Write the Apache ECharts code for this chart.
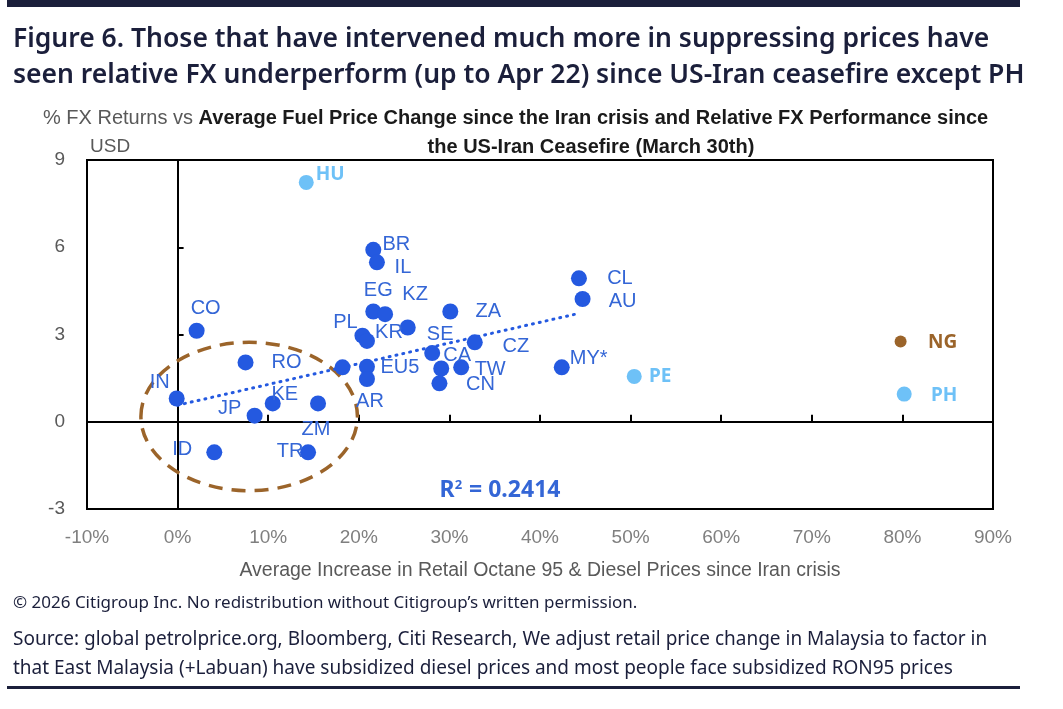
<!DOCTYPE html>
<html>
<head>
<meta charset="utf-8">
<script src="https://cdn.jsdelivr.net/npm/echarts@6/dist/echarts.min.js"></script>
<style>
  html, body { margin: 0; padding: 0; background: #fff; }
  #charts { width: 1063px; height: 709px; }
</style>
</head>
<body>
<div id="charts"></div>
<script>
  // main countries (dark blue)
  const mainNames = ['BR', 'IL', 'CL', 'AU', 'EG', 'KZ', '', 'PL', 'KR', 'ZA', 'SE', 'CA', 'TW', 'CN', 'CZ',
    'EU5', 'AR', '', 'MY*', 'CO', 'IN', 'RO', 'JP', 'KE', 'ZM', 'TR', 'ID'];
  const mainX = [21.6, 22.0, 44.3, 44.7, 21.6, 22.9, 25.4, 20.4, 20.9, 30.1, 28.1, 29.1, 31.3, 28.9, 32.8,
    20.9, 20.9, 18.2, 42.4, 2.1, -0.1, 7.5, 8.5, 10.5, 15.5, 14.4, 4.05];
  const mainY = [5.91, 5.48, 4.93, 4.22, 3.79, 3.70, 3.24, 2.96, 2.78, 3.79, 2.36, 1.83, 1.87, 1.32, 2.73,
    1.89, 1.47, 1.87, 1.87, 3.13, 0.80, 2.04, 0.21, 0.63, 0.63, -1.05, -1.05];

  // light blue outliers
  const lightNames = ['HU', 'PE', 'PH'];
  const lightX = [14.2, 50.4, 80.2];
  const lightY = [8.23, 1.56, 0.95];

  // brown
  const brownNames = ['NG'];
  const brownX = [79.8];
  const brownY = [2.76];

  // dotted trend line ends
  const trendX = [0, 44.2];
  const trendY = [0.57, 3.72];
  const rSquared = '0.2414';

  // dashed ellipse: centre x, centre y, radius x, radius y (data units)
  const ellipse = [7.9, 0.18, 11.95, 2.55];

  // label offsets (px from point centre)
  const labelOffset = {
    BR: [23, -5], IL: [26, 5], CL: [41, 0], AU: [40, 2], EG: [5, -21], KZ: [30, -20], PL: [-17, -13],
    KR: [22, -8], ZA: [38, 0], SE: [8, -19], CA: [16, -13], TW: [29, 2], CN: [41, 1], CZ: [41, 4],
    EU5: [33, 1], AR: [3, 22], 'MY*': [27, -9], CO: [9, -22], IN: [-17, -16], RO: [41, 0], JP: [-25, -7],
    KE: [12, -9], ZM: [-2, 26], TR: [-18, -1], ID: [-32, -3], HU: [24, -8], PE: [26, 0], NG: [42, 1], PH: [40, 1]
  };

  const DARK = '#2459E0';
  const DARK_TXT = '#3466D6';
  const LIGHT = '#6EC1F7';
  const BROWN = '#9B642A';
  const NAVY = '#1B1F3B';
  const GREY = '#7F7F7F';

  function points(names, xs, ys) {
    return names.map(function (n, i) {
      return {
        name: n,
        value: [xs[i], ys[i]],
        label: {
          show: n !== '',
          offset: labelOffset[n] || [0, 0]
        }
      };
    });
  }

  let chart = echarts.init(document.getElementById('charts'));
  chart.setOption({
    animation: false,
    grid: {
      left: 87, right: 70, top: 160, bottom: 200,
      show: true, borderColor: '#000', borderWidth: 2, backgroundColor: 'transparent'
    },
    xAxis: [
      {
        type: 'value', min: -10, max: 90, interval: 10, position: 'bottom',
        name: 'Average Increase in Retail Octane 95 & Diesel Prices since Iran crisis',
        nameLocation: 'middle', nameGap: 52,
        nameTextStyle: { color: '#595959', fontSize: 19.5, fontFamily: 'Liberation Sans' },
        axisLine: { show: false, onZero: false },
        axisTick: { show: false },
        splitLine: { show: false },
        axisLabel: { color: GREY, fontSize: 19, fontFamily: 'Liberation Sans', margin: 19, formatter: '{value}%' }
      },
      {
        type: 'value', min: -10, max: 90, interval: 10, position: 'bottom',
        axisLine: { show: true, onZero: true, onZeroAxisIndex: 0, lineStyle: { color: '#000', width: 2 } },
        axisTick: { show: true, inside: true, length: 7, lineStyle: { color: '#000', width: 2 } },
        axisLabel: { show: false },
        splitLine: { show: false }
      }
    ],
    yAxis: [
      {
        type: 'value', min: -3, max: 9, interval: 3, position: 'left',
        axisLine: { show: false, onZero: false },
        axisTick: { show: false },
        splitLine: { show: false },
        axisLabel: { color: '#595959', fontSize: 19, fontFamily: 'Liberation Sans', margin: 22 }
      },
      {
        type: 'value', min: -3, max: 9, interval: 3, position: 'left',
        axisLine: { show: true, onZero: true, onZeroAxisIndex: 0, lineStyle: { color: '#000', width: 2 } },
        axisTick: { show: true, inside: true, length: 6, lineStyle: { color: '#000', width: 2 } },
        axisLabel: { show: false },
        splitLine: { show: false }
      }
    ],
    series: [
      {
        type: 'custom',
        renderItem: function (params, api) {
          let c = api.coord([api.value(0), api.value(1)]);
          let s = api.size([api.value(2), api.value(3)]);
          return {
            type: 'ellipse',
            shape: { cx: c[0], cy: c[1], rx: s[0], ry: s[1] },
            style: { fill: 'none', stroke: BROWN, lineWidth: 3.5, lineDash: [14, 9] }
          };
        },
        data: [ellipse],
        silent: true,
        z: 1
      },
      {
        type: 'line',
        data: trendX.map(function (x, i) { return [x, trendY[i]]; }),
        showSymbol: false,
        lineStyle: { color: DARK, width: 3, type: [1, 6], cap: 'round' },
        z: 2
      },
      {
        type: 'scatter',
        data: points(mainNames, mainX, mainY),
        symbolSize: 16,
        itemStyle: { color: DARK, opacity: 1 },
        label: {
          position: 'inside', formatter: '{b}', color: DARK_TXT,
          fontSize: 20, fontFamily: 'Liberation Sans'
        },
        z: 3
      },
      {
        type: 'scatter',
        data: points(lightNames, lightX, lightY),
        symbolSize: 15,
        itemStyle: { color: LIGHT, opacity: 1 },
        label: {
          position: 'inside', formatter: '{b}', color: LIGHT,
          fontSize: 19, fontWeight: 'bold', fontFamily: 'Noto Sans'
        },
        z: 3
      },
      {
        type: 'scatter',
        data: points(brownNames, brownX, brownY),
        symbolSize: 12,
        itemStyle: { color: BROWN, opacity: 1 },
        label: {
          position: 'inside', formatter: '{b}', color: BROWN,
          fontSize: 19, fontWeight: 'bold', fontFamily: 'Noto Sans'
        },
        z: 3
      }
    ],
    graphic: [
      { type: 'rect', shape: { x: 7, y: 0, width: 1013, height: 7 }, style: { fill: NAVY } },
      {
        type: 'text', left: 13, top: 21,
        style: {
          text: 'Figure 6. Those that have intervened much more in suppressing prices have\nseen relative FX underperform (up to Apr 22) since US-Iran ceasefire except PH',
          fill: NAVY, font: '600 26.5px "Noto Sans"', lineHeight: 36
        }
      },
      {
        type: 'text', left: 43, top: 108,
        style: {
          rich: {
            n: { fill: '#595959', font: '20px "Liberation Sans"' },
            b: { fill: '#1a1a1a', font: 'bold 20px "Liberation Sans"' }
          },
          text: '{n|% FX Returns vs }{b|Average Fuel Price Change since the Iran crisis and Relative FX Performance since}'
        }
      },
      {
        type: 'text', x: 591, y: 147,
        style: {
          text: 'the US-Iran Ceasefire (March 30th)', align: 'center', verticalAlign: 'middle',
          fill: '#1a1a1a', font: 'bold 20px "Liberation Sans"'
        }
      },
      {
        type: 'text', x: 90, y: 147,
        style: { text: 'USD', verticalAlign: 'middle', fill: '#595959', font: '19px "Liberation Sans"' }
      },
      {
        type: 'text', x: 500, y: 490,
        style: {
          align: 'center', verticalAlign: 'middle',
          rich: {
            r: { fill: DARK_TXT, font: 'bold 23px "Noto Sans"' },
            s: { fill: DARK_TXT, font: 'bold 13px "Noto Sans"', padding: [0, 1, 10, 0] }
          },
          text: '{r|R}{s|2}{r| = ' + rSquared + '}'
        }
      },
      {
        type: 'text', left: 13, top: 595,
        style: { text: '\u00a9 2026 Citigroup Inc. No redistribution without Citigroup\u2019s written permission.', fill: NAVY, font: '17px "Noto Sans"' }
      },
      {
        type: 'text', left: 13, top: 625,
        style: {
          text: 'Source: global petrolprice.org, Bloomberg, Citi Research, We adjust retail price change in Malaysia to factor in\nthat East Malaysia (+Labuan) have subsidized diesel prices and most people face subsidized RON95 prices',
          fill: NAVY, font: '19px "Noto Sans"', lineHeight: 29
        }
      },
      { type: 'rect', shape: { x: 7, y: 686, width: 1013, height: 3 }, style: { fill: NAVY } }
    ]
  });
</script>
</body>
</html>
